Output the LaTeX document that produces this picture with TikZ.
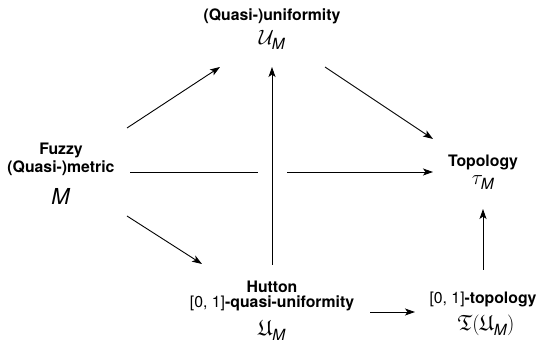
\documentclass[tikz,border=0pt]{standalone}
\usepackage{amsmath,amssymb}
\usepackage{fontspec}
\setmainfont{TeX Gyre Heros}
\usetikzlibrary{arrows.meta}
\newcommand{\lbl}{\fontsize{15.8}{18}\selectfont}
\newcommand{\mth}{\fontsize{22}{26}\selectfont}
\newcommand{\Mx}{\textit{M}}
\tikzset{
  txt/.style={anchor=base, inner sep=0pt, font=\lbl\bfseries},
  mtxt/.style={anchor=base, inner sep=0pt, font=\mth},
  conn/.style={line width=0.9pt, draw=black},
  arr/.style={conn, -{Stealth[length=10pt,width=7pt,inset=2.5pt]}}
}
\begin{document}
\begin{tikzpicture}[x=1pt,y=-1pt]
\useasboundingbox (0,0) rectangle (541,344);
% text nodes
\node[txt] (fz1) at (61,155) {Fuzzy};
\node[txt] (fz2) at (61,173) {(Quasi-)metric};
\node[mtxt] (fzM) at (61,205) {\Mx};
\node[txt] (un1) at (272,21) {(Quasi-)uniformity};
\node[mtxt] (unM) at (272,45) {$\mathcal{U}_{\Mx}$};
\node[txt] (tp1) at (483,167) {Topology};
\node[mtxt] (tpM) at (483,185) {$\tau_{\Mx}$};
\node[txt] (hu1) at (272,293) {Hutton};
\node[txt] (hu2) at (272,308) {\mdseries[0, 1]\bfseries-quasi-uniformity};
\node[mtxt] (huM) at (272,336) {$\mathfrak{U}_{\Mx}$};
\node[txt] (ft1) at (483,304) {\mdseries[0, 1]\bfseries-topology};
\node[mtxt] (ftM) at (486,331) {$\mathfrak{T}(\mathfrak{U}_{\Mx})$};
% connector ends
\coordinate (a1s) at (127,128); \coordinate (a1e) at (220,67);
\coordinate (a2s) at (325,67);  \coordinate (a2e) at (433,139);
\coordinate (a3s) at (130,172); \coordinate (gapl) at (258,172);
\coordinate (gapr) at (287,172); \coordinate (a3e) at (433,172);
\coordinate (a4s) at (272,265); \coordinate (a4e) at (272,67);
\coordinate (a5s) at (127,216); \coordinate (a5e) at (202,264);
\coordinate (a6s) at (370,312); \coordinate (a6e) at (415,312);
\coordinate (a7s) at (483,270); \coordinate (a7e) at (483,209);
% connectors
\draw[arr] (a1s) -- (a1e);
\draw[arr] (a2s) -- (a2e);
\draw[conn] (a3s) -- (gapl);
\draw[arr] (gapr) -- (a3e);
\draw[arr] (a4s) -- (a4e);
\draw[arr] (a5s) -- (a5e);
\draw[arr] (a6s) -- (a6e);
\draw[arr] (a7s) -- (a7e);
\end{tikzpicture}
\end{document}
